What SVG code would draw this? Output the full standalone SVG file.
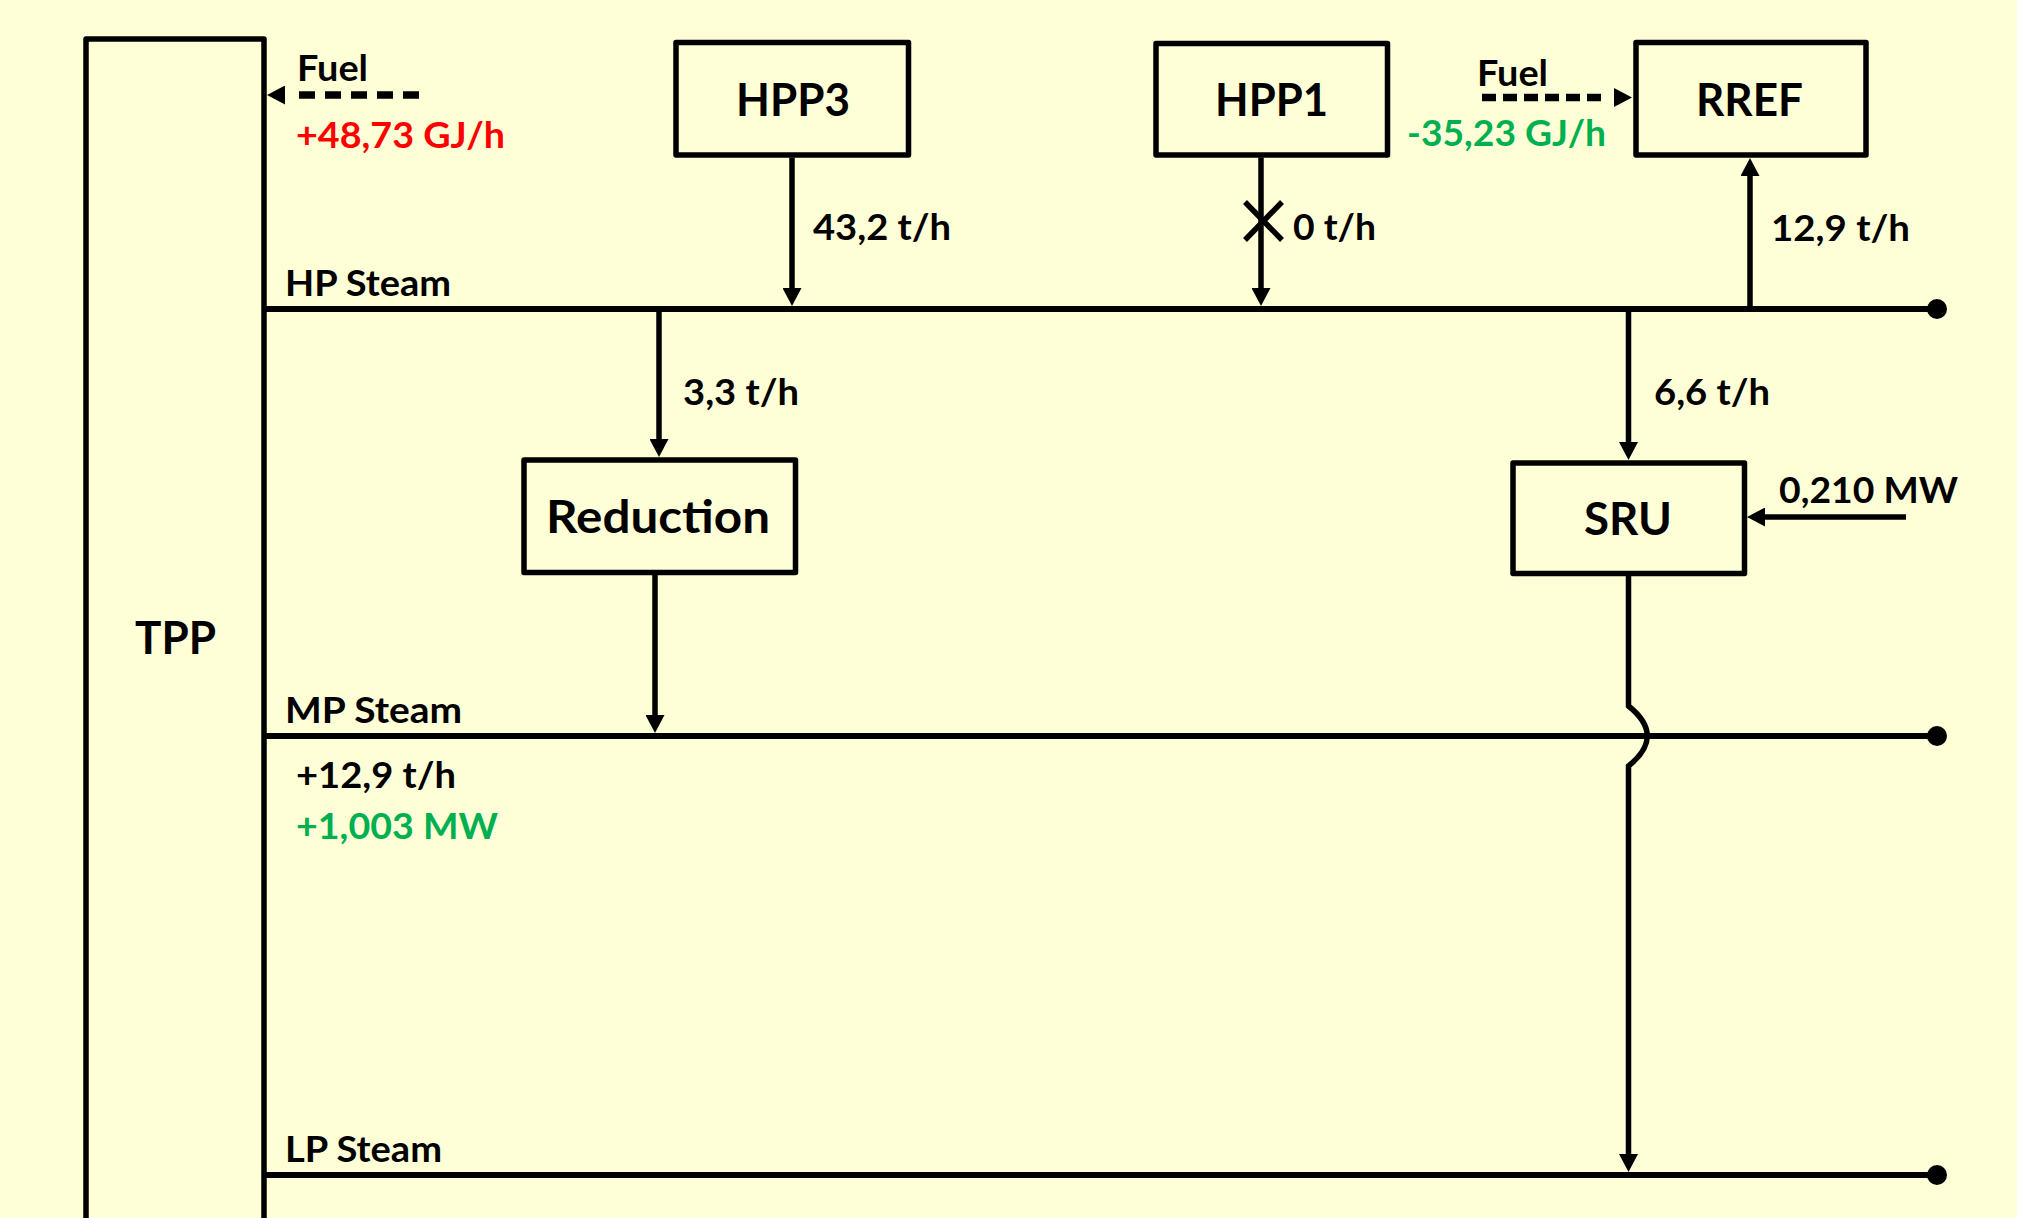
<svg xmlns="http://www.w3.org/2000/svg" width="2017" height="1218" viewBox="0 0 2017 1218">
  <defs>
    <style>
      .box { fill: none; stroke: #000; stroke-width: 5.5; stroke-linejoin: round; }
      .bus { fill: none; stroke: #000; stroke-width: 6; }
      .flow { fill: none; stroke: #000; stroke-width: 5.5; }
      .fuel { fill: none; stroke: #000; stroke-width: 7.5; }
      .tip { fill: none; stroke: #000; stroke-width: 5.5; marker-end: url(#ah); }
      .dot { fill: #000; }
      text { font-family: Lato, "Liberation Sans", sans-serif; font-weight: 700; fill: #000; }
      .name { font-size: 46px; }
      .lbl { font-size: 36px; }
      .red { fill: #FF0000; }
      .green { fill: #00B050; }
    </style>
    <marker id="ah" viewBox="0 0 18 19" refX="8" refY="9.5" markerWidth="18" markerHeight="19" markerUnits="userSpaceOnUse" orient="auto">
      <path d="M0,0 L18,9.5 L0,19 z" fill="#000"/>
    </marker>
  </defs>

  <rect width="2017" height="1218" fill="#FFFFD7"/>

  <!-- steam headers -->
  <g id="headers">
    <line class="bus" x1="264" y1="309" x2="1937" y2="309"/>
    <line class="bus" x1="264" y1="736" x2="1937" y2="736"/>
    <line class="bus" x1="264" y1="1175" x2="1937" y2="1175"/>
    <circle class="dot" cx="1937" cy="309" r="10"/>
    <circle class="dot" cx="1937" cy="736" r="10"/>
    <circle class="dot" cx="1937" cy="1175" r="10"/>
    <text class="lbl" x="285" y="296" textLength="166" lengthAdjust="spacingAndGlyphs">HP Steam</text>
    <text class="lbl" x="285" y="723" textLength="177" lengthAdjust="spacingAndGlyphs">MP Steam</text>
    <text class="lbl" x="285" y="1162" textLength="157" lengthAdjust="spacingAndGlyphs">LP Steam</text>
  </g>

  <!-- units -->
  <g id="tpp">
    <rect class="box" x="86" y="39" width="178" height="1200"/>
    <text class="name" x="135" y="654" textLength="81" lengthAdjust="spacingAndGlyphs">TPP</text>
  </g>
  <g id="hpp3">
    <rect class="box" x="676" y="42.5" width="232.5" height="112.5"/>
    <text class="name" x="736" y="116" textLength="114" lengthAdjust="spacingAndGlyphs">HPP3</text>
  </g>
  <g id="hpp1">
    <rect class="box" x="1156" y="43.5" width="231.5" height="111.5"/>
    <text class="name" x="1215" y="116" textLength="113" lengthAdjust="spacingAndGlyphs">HPP1</text>
  </g>
  <g id="rref">
    <rect class="box" x="1636" y="42.5" width="230" height="112.5"/>
    <text class="name" x="1696" y="116" textLength="107" lengthAdjust="spacingAndGlyphs">RREF</text>
  </g>
  <g id="reduction">
    <rect class="box" x="524" y="460" width="271.5" height="112.5"/>
    <text class="name" x="546" y="533" textLength="224" lengthAdjust="spacingAndGlyphs">Reduction</text>
  </g>
  <g id="sru">
    <rect class="box" x="1513" y="463" width="231.5" height="110.5"/>
    <text class="name" x="1584" y="535" textLength="88" lengthAdjust="spacingAndGlyphs">SRU</text>
  </g>

  <!-- connectors -->
  <g id="connectors">
    <!-- fuel to TPP -->
    <path class="fuel" d="M419 95 L298 95" stroke-dasharray="16 10"/>
    <path class="tip" d="M285 95 L277 95"/>
    <!-- fuel to RREF -->
    <path class="fuel" d="M1482 97.5 L1603 97.5" stroke-width="7" stroke-dasharray="14 7"/>
    <path class="tip" d="M1614 97.5 L1622 97.5"/>

    <!-- HPP3 to HP header -->
    <path class="tip" d="M792 157.5 L792 296"/>
    <!-- HPP1 to HP header, closed -->
    <path class="tip" d="M1261 157.5 L1261 296"/>
    <path class="flow" d="M1245 202 L1282 240 M1282 202 L1245 240" stroke-width="6.5"/>
    <!-- HP header to RREF -->
    <path class="tip" d="M1750 309 L1750 168"/>
    <!-- HP header to Reduction -->
    <path class="tip" d="M659 309 L659 447"/>
    <!-- Reduction to MP header -->
    <path class="tip" d="M655 575 L655 723"/>
    <!-- HP header to SRU -->
    <path class="tip" d="M1628.5 309 L1628.5 450"/>
    <!-- SRU to LP header, hopping over MP header -->
    <path class="tip" d="M1628.5 576 L1628.5 706 Q1666 736 1628.5 766 L1628.5 1162"/>
    <!-- power into SRU -->
    <path class="tip" d="M1906 517 L1757 517"/>
  </g>

  <!-- flow labels -->
  <g id="labels">
    <text class="lbl" x="297" y="81" textLength="71" lengthAdjust="spacingAndGlyphs">Fuel</text>
    <text class="lbl red" x="296" y="148" textLength="209" lengthAdjust="spacingAndGlyphs">+48,73 GJ/h</text>
    <text class="lbl" x="1477" y="86" textLength="71" lengthAdjust="spacingAndGlyphs">Fuel</text>
    <text class="lbl green" x="1407" y="146" textLength="199" lengthAdjust="spacingAndGlyphs">-35,23 GJ/h</text>
    <text class="lbl" x="813" y="240" textLength="138" lengthAdjust="spacingAndGlyphs">43,2 t/h</text>
    <text class="lbl" x="1293" y="240" textLength="83" lengthAdjust="spacingAndGlyphs">0 t/h</text>
    <text class="lbl" x="1771" y="241" textLength="139" lengthAdjust="spacingAndGlyphs">12,9 t/h</text>
    <text class="lbl" x="683" y="405" textLength="116" lengthAdjust="spacingAndGlyphs">3,3 t/h</text>
    <text class="lbl" x="1654" y="405" textLength="116" lengthAdjust="spacingAndGlyphs">6,6 t/h</text>
    <text class="lbl" x="1779" y="503" textLength="179" lengthAdjust="spacingAndGlyphs">0,210 MW</text>
    <text class="lbl" x="296" y="788" textLength="160" lengthAdjust="spacingAndGlyphs">+12,9 t/h</text>
    <text class="lbl green" x="296" y="839" textLength="202" lengthAdjust="spacingAndGlyphs">+1,003 MW</text>
  </g>
</svg>
